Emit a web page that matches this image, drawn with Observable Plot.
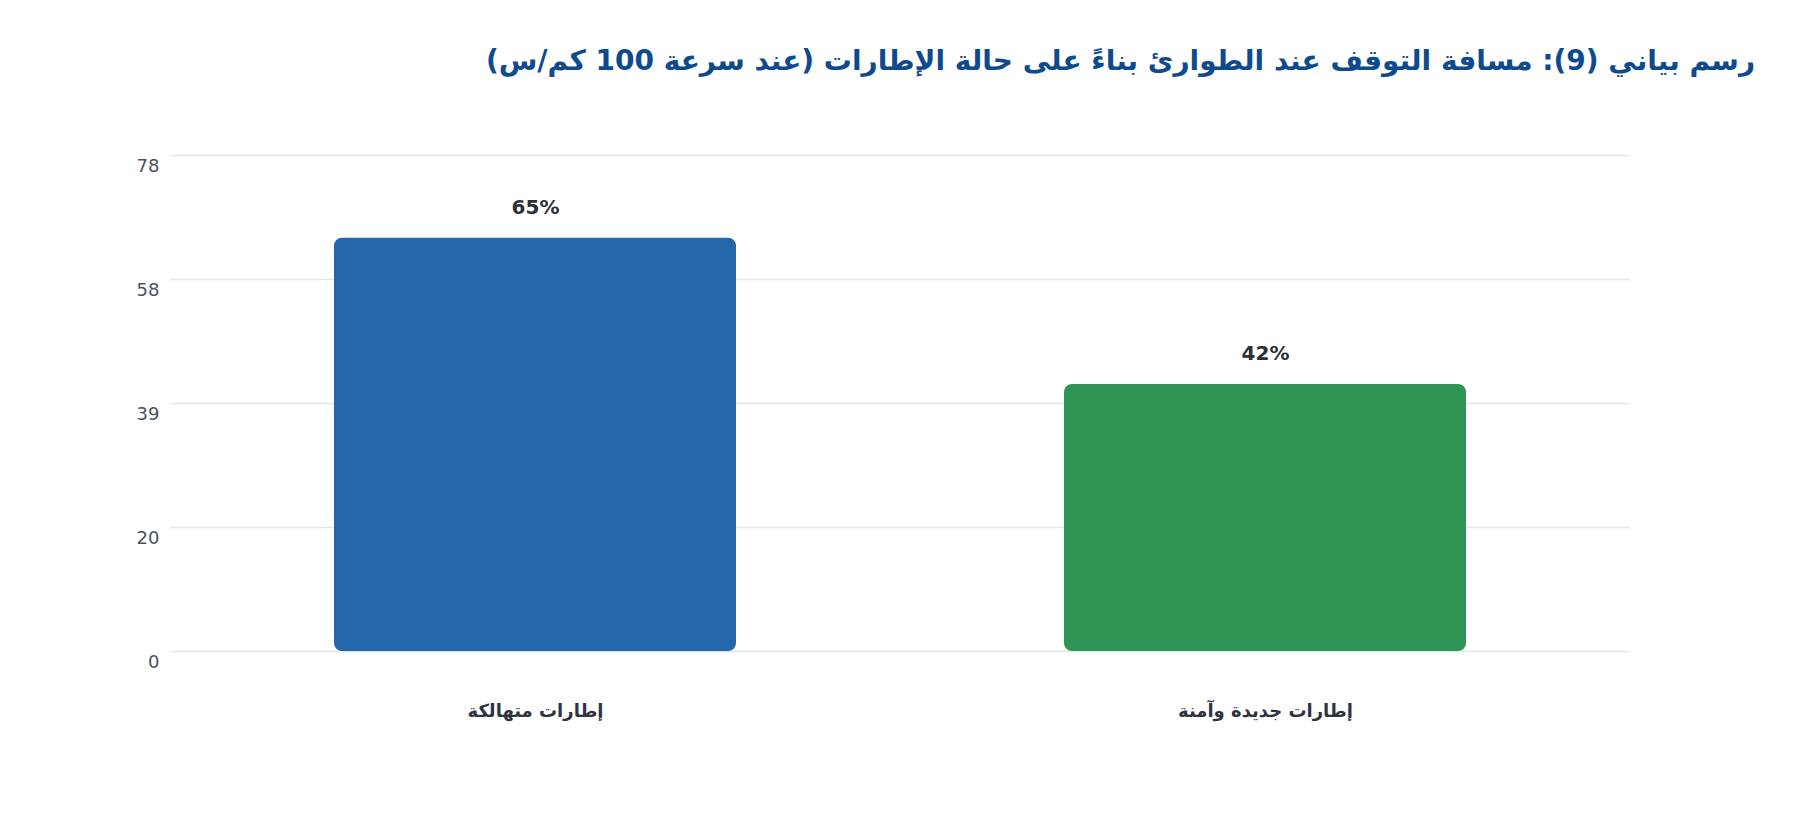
<!DOCTYPE html>
<html lang="ar">
<head>
<meta charset="utf-8">
<script src="https://cdn.jsdelivr.net/npm/d3@7"></script>
<script src="https://cdn.jsdelivr.net/npm/@observablehq/plot@0.6"></script>
<style>
  html, body { margin: 0; padding: 0; background: #ffffff; }
  #wrap { position: relative; width: 1800px; height: 820px; font-family: "DejaVu Sans", sans-serif; }
  #title { position: absolute; right: 45px; top: 43px; direction: rtl; font-size: 28px; font-weight: bold; color: #0d4a8e; line-height: 36px; white-space: nowrap; }
  #chart { position: absolute; left: 0; top: 0; }
</style>
</head>
<body>
<div id="wrap">
  <div id="chart"></div>
  <div id="title">رسم بياني (9): مسافة التوقف عند الطوارئ بناءً على حالة الإطارات (عند سرعة 100 كم/س)</div>
</div>
<script>
const categories = ["إطارات متهالكة", "إطارات جديدة وآمنة"];
const values = [65, 42];
const barColors = ["#2366a9", "#2e9453"];
const tickValues = [0, 19.5, 39, 58.5, 78];
const tickLabels = ["0", "20", "39", "58", "78"];

const data = categories.map((c, i) => ({category: c, value: values[i], color: barColors[i]}));
const labelOf = new Map(tickValues.map((t, i) => [t, tickLabels[i]]));

const chart = Plot.plot({
  width: 1800,
  height: 820,
  marginLeft: 170,
  marginRight: 170,
  marginTop: 155,
  marginBottom: 169,
  style: {fontFamily: "DejaVu Sans, sans-serif", background: "#ffffff"},
  x: {domain: categories, paddingInner: 0.45, paddingOuter: 0.225, axis: null},
  y: {domain: [0, 78], axis: null},
  color: {type: "identity"},
  marks: [
    Plot.ruleY(tickValues, {stroke: "#e3e6ea", strokeWidth: 1.5}),
    Plot.barY(data, {x: "category", y: "value", fill: "color", rx: 8}),
    Plot.text(tickValues, {
      y: d => d, text: d => labelOf.get(d), frameAnchor: "left", textAnchor: "end",
      dx: -11, dy: 11, fontSize: 18, fill: "#4a5262"
    }),
    Plot.text(data, {
      x: "category", y: "value", text: d => `${d.value}%`, dy: -31,
      fontSize: 20, fontWeight: "bold", fill: "#2b2f36"
    }),
    Plot.text(data, {
      x: "category", text: "category", frameAnchor: "bottom", dy: 65,
      fontSize: 18, fontWeight: "bold", fill: "#2d3440"
    })
  ]
});
document.getElementById("chart").appendChild(chart);
</script>
</body>
</html>
